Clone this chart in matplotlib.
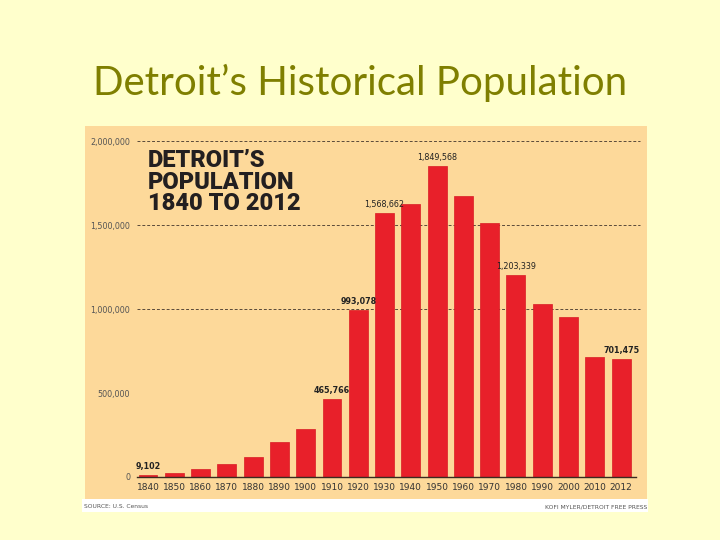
import matplotlib
matplotlib.use("Agg")
import matplotlib.pyplot as plt
from matplotlib.patches import Rectangle

years = ["1840", "1850", "1860", "1870", "1880", "1890", "1900", "1910", "1920", "1930",
         "1940", "1950", "1960", "1970", "1980", "1990", "2000", "2010", "2012"]
population = [9102, 21019, 45619, 79577, 116340, 205876, 285704, 465766, 993078, 1568662,
              1623452, 1849568, 1670144, 1514063, 1203339, 1027974, 951270, 713777, 701475]
labeled = {"1840": ("9,102", True), "1910": ("465,766", True), "1920": ("993,078", True),
           "1930": ("1,568,662", False), "1950": ("1,849,568", False),
           "1980": ("1,203,339", False), "2012": ("701,475", True)}
ytick_vals = [0, 500000, 1000000, 1500000, 2000000]
ytick_labels = ["0", "500,000", "1,000,000", "1,500,000", "2,000,000"]
dashed_levels = [1000000, 1500000, 2000000]

W, H = 720, 540
fig = plt.figure(figsize=(7.2, 5.4), dpi=100, facecolor="#FFFFCC")

def fx(x): return x / W
def fy(y): return 1 - y / H

# slide title
fig.text(0.5, fy(83), "Detroit\u2019s Historical Population", ha="center", va="center",
         fontsize=29, color="#7F7F00", family="Lato")

# panel backgrounds
fig.patches.append(Rectangle((fx(82), fy(512)), fx(648) - fx(82), fy(499) - fy(512),
                             transform=fig.transFigure, facecolor="white", edgecolor="none", zorder=-2))
fig.patches.append(Rectangle((fx(85), fy(499)), fx(647) - fx(85), fy(126) - fy(499),
                             transform=fig.transFigure, facecolor="#FDD99A", edgecolor="none", zorder=-1))

ax = fig.add_axes([fx(137), fy(477), fx(640) - fx(137), fy(141) - fy(477)])
ax.set_zorder(2)
ax.set_facecolor("none")
ax.patch.set_alpha(0)
for s in ax.spines.values():
    s.set_visible(False)

x = list(range(len(years)))
ax.set_xlim(-0.42, 18.72)
ax.set_ylim(0, 2000000)

for lvl in dashed_levels:
    ax.plot([-0.42, 18.72], [lvl, lvl], ls=(0, (3, 2)), lw=0.7, color="#5a4a3a", zorder=1, clip_on=False)

ax.bar(x, population, width=0.72, color="#E8202A", edgecolor="#D91C24", lw=0.5, zorder=2)
ax.plot([-0.42, 18.55], [0, 0], color="#3a2a20", lw=1.0, zorder=3, clip_on=False)

ax.set_xticks(x)
ax.set_xticklabels(years, fontsize=6.5, color="#333333")
ax.set_yticks(ytick_vals)
ax.set_yticklabels(ytick_labels, fontsize=5.8, color="#555555")
ax.tick_params(length=0, pad=4)
ax.tick_params(axis="y", pad=5)

for i, (yr, val) in enumerate(zip(years, population)):
    if yr in labeled:
        txt, bold = labeled[yr]
        ax.text(i, val + 25000, txt, ha="center", va="bottom", fontsize=5.8,
                fontweight="bold" if bold else "normal", color="#222222", zorder=4)

fig.text(fx(148), fy(149), "DETROIT\u2019S\nPOPULATION\n1840 TO 2012",
         ha="left", va="top", fontsize=17, fontweight="heavy", family="Roboto",
         color="#231F20", linespacing=0.92, zorder=5)

fig.text(fx(84), fy(507), "SOURCE: U.S. Census", fontsize=4.3, color="#555555", ha="left", va="center")
fig.text(fx(647), fy(507), "KOFI MYLER/DETROIT FREE PRESS", fontsize=4.3, color="#555555",
         ha="right", va="center")

fig.savefig("out.png", dpi=100, facecolor=fig.get_facecolor())
